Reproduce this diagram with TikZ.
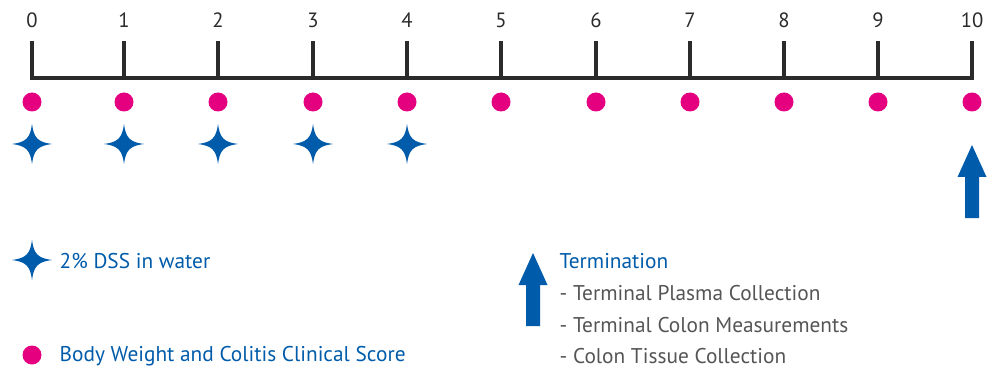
\documentclass[tikz,border=0pt]{standalone}
\usepackage{fontspec}
\setmainfont{PT Sans}
\usetikzlibrary{calc}
\definecolor{dotpink}{HTML}{E4007F}
\definecolor{dssblue}{HTML}{005BAA}
\definecolor{axisgray}{HTML}{2B2B2B}
\definecolor{textgray}{HTML}{555555}
\def\dssstar(#1,#2){\fill[dssblue] ($(#1,#2)+(20,0)$) .. controls ($(#1,#2)+(6,1.8)$) and ($(#1,#2)+(1.8,6)$) .. ($(#1,#2)+(0,20)$) .. controls ($(#1,#2)+(-1.8,6)$) and ($(#1,#2)+(-6,1.8)$) .. ($(#1,#2)+(-20,0)$) .. controls ($(#1,#2)+(-6,-1.8)$) and ($(#1,#2)+(-1.8,-6)$) .. ($(#1,#2)+(0,-20)$) .. controls ($(#1,#2)+(1.8,-6)$) and ($(#1,#2)+(6,-1.8)$) .. cycle;}
\def\upperarrow(#1,#2,#3){\fill[dssblue] (#1-7,#3) -- (#1-7,#2+32) -- (#1-14.5,#2+32) -- (#1,#2) -- (#1+14.5,#2+32) -- (#1+7,#2+32) -- (#1+7,#3) -- cycle;}

\begin{document}
\begin{tikzpicture}[x=0.75pt,y=-0.75pt,
  daylabel/.style={text=axisgray,font=\fontsize{15.5}{18}\selectfont},
  legendtext/.style={text=dssblue,anchor=west,font=\fontsize{16}{19}\selectfont},
  steptext/.style={text=textgray,anchor=west,font=\fontsize{16}{19}\selectfont}]
			%%%%% START %%%%%
			\useasboundingbox (0,0) rectangle (987,370);
			
			\draw[line width=2.3pt, color=axisgray] (32, 41) -- (32, 78) -- (972, 78) -- (972, 41);
			\foreach \d/\x in {0/32,1/124,2/218,3/313,4/407,5/501,6/596,7/690,8/784,9/878,10/972}{
				\draw[line width=2.3pt, color=axisgray] (\x, 41) -- (\x, 78);
				\node[daylabel] (day\d) at (\x, 20) {\d};
				\fill[dotpink] (\x, 102) circle (9.5);
			}
			
			\foreach \x in {32,124,218,313,407}{
				\dssstar(\x,144)
			}
			
			\upperarrow(972,145,218)
			
			%% legend
			\dssstar(32,260)
			\node[legendtext] (dss) at (55, 261) {2\% DSS in water};
			
			\fill[dotpink] (32, 355) circle (9.5);
			\node[legendtext] (score) at (55, 356) {Body Weight and Colitis Clinical Score};
			
			\upperarrow(533,253,326)
			\node[legendtext] (term) at (555, 261) {Termination};
			\node[steptext] (plasma) at (555, 293) {- Terminal Plasma Collection};
			\node[steptext] (colon) at (555, 325) {- Terminal Colon Measurements};
			\node[steptext] (tissue) at (555, 356) {- Colon Tissue Collection};
			
			%%%%% END %%%%%
		\end{tikzpicture}
\end{document}
